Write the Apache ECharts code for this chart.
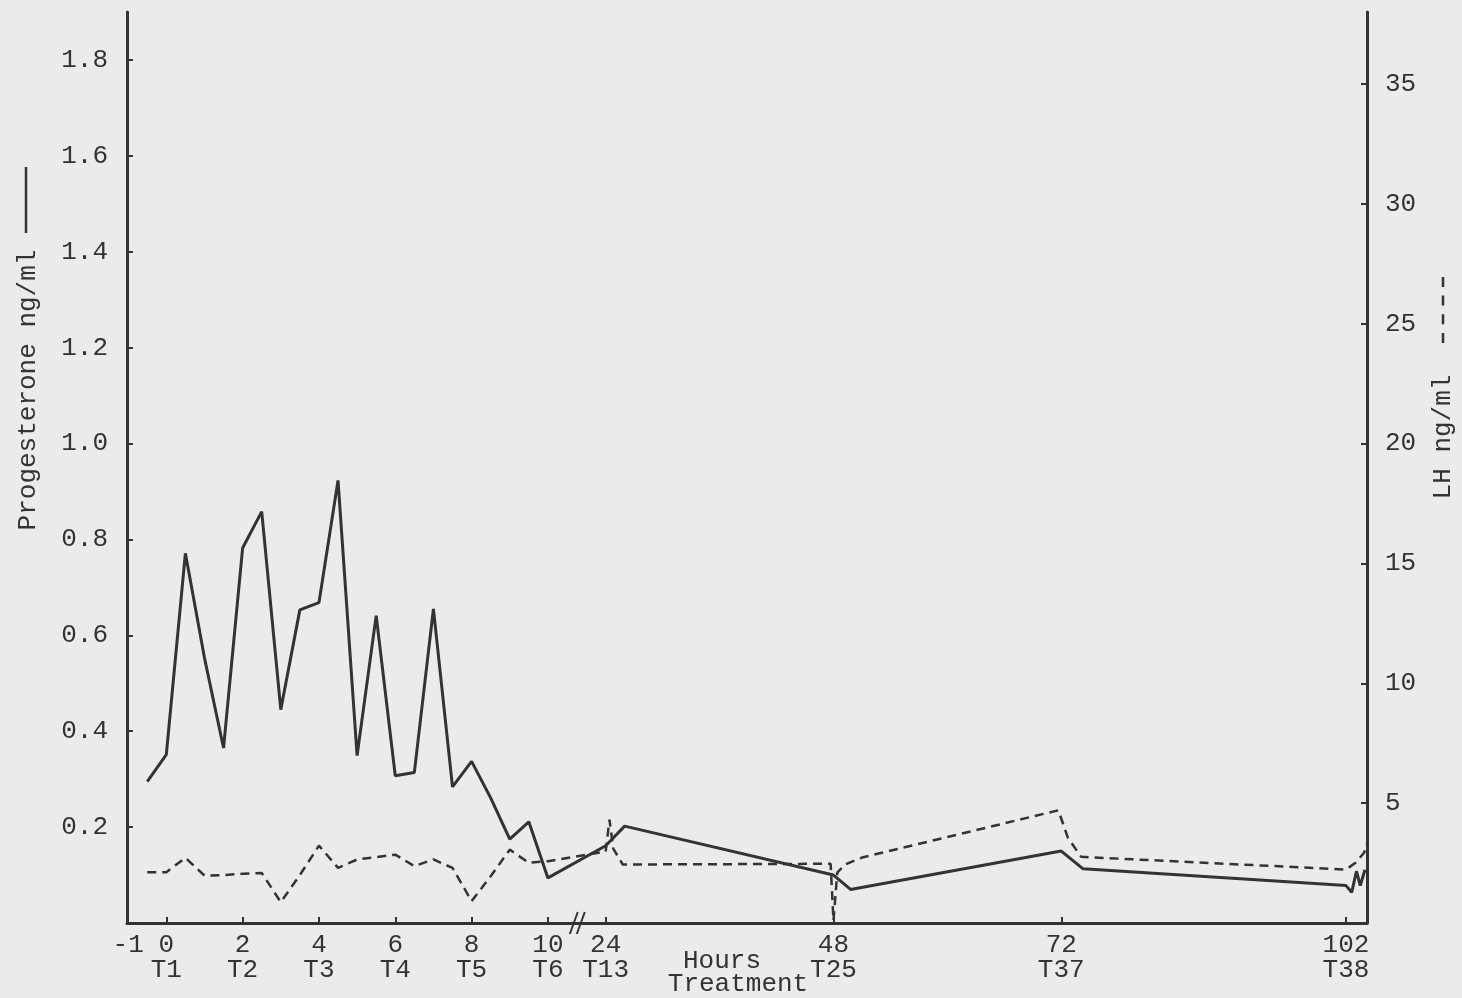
<!DOCTYPE html>
<html>
<head>
<meta charset="utf-8">
<script src="https://cdn.jsdelivr.net/npm/echarts@6.0.0/dist/echarts.min.js"></script>
<style>
  html, body { margin: 0; padding: 0; background: #ebebeb; }
  #chart { width: 1462px; height: 998px; }
</style>
</head>
<body>
<div id="chart"></div>
<script>
// ---- data (hours, values) ----
const progHours  = [-0.5, 0, 0.5, 1.0, 1.5, 2, 2.5, 3, 3.5, 4, 4.5, 5, 5.5, 6, 6.5, 7, 7.5, 8, 8.5, 9, 9.5, 10, 24, 26, 48, 49.8, 72, 74.3, 102, 102.6, 103.1, 103.5, 104.0];
const progValues = [0.295, 0.351, 0.771, 0.553, 0.365, 0.782, 0.858, 0.445, 0.653, 0.668, 0.923, 0.349, 0.641, 0.307, 0.314, 0.655, 0.284, 0.337, 0.261, 0.175, 0.211, 0.094, 0.161, 0.202, 0.100, 0.070, 0.150, 0.113, 0.078, 0.064, 0.108, 0.078, 0.111];

const lhHours  = [-0.5, 0, 0.5, 1, 1.5, 2, 2.5, 3, 3.5, 4, 4.5, 5, 5.5, 6, 6.5, 7, 7.5, 8, 8.5, 9, 9.5, 10, 24, 24.4, 24.8, 25.8, 47.7, 48, 48.4, 49.2, 51, 71.7, 72.7, 74.1, 102, 103, 103.9, 104.2];
const lhValues = [2.12, 2.12, 2.72, 1.98, 2.0, 2.05, 2.09, 0.87, 2.0, 3.23, 2.3, 2.65, 2.75, 2.85, 2.37, 2.65, 2.3, 0.91, 1.95, 3.06, 2.51, 2.58, 2.98, 4.31, 3.1, 2.44, 2.47, 0.1, 2.1, 2.44, 2.73, 4.70, 3.55, 2.76, 2.23, 2.51, 2.93, 3.3];

const xTickHours = [-1, 0, 2, 4, 6, 8, 10, 24, 48, 72, 102];
const xTickTreat = ['', 'T1', 'T2', 'T3', 'T4', 'T5', 'T6', 'T13', 'T25', 'T37', 'T38'];
const progTicks  = [0.2, 0.4, 0.6, 0.8, 1.0, 1.2, 1.4, 1.6, 1.8];
const lhTicks    = [5, 10, 15, 20, 25, 30, 35];

// ---- broken time scale: hours -> axis units (compressed after the break) ----
const BREAK_START = 10, BREAK_END = 24;
const POST_OFFSET = 11.514, POST_SLOPE = 0.24873;
function toDisplay(h) {
  return h <= BREAK_START + 1 ? h : POST_OFFSET + (h - BREAK_END) * POST_SLOPE;
}

const INK = '#333333';
const FONT = '"Liberation Mono", "DejaVu Sans Mono", monospace';

const chart = echarts.init(document.getElementById('chart'), null, { renderer: 'canvas' });

const xTickDisp = xTickHours.map(toDisplay);

const option = {
  backgroundColor: '#ebebeb',
  animation: false,
  grid: { left: 127, right: 95, top: 12, bottom: 75, containLabel: false },
  xAxis: {
    type: 'value',
    min: -1.03,
    max: 31.465,
    axisLine: { show: true, onZero: false, lineStyle: { color: INK, width: 3 } },
    axisTick: { show: true, inside: true, length: 6, lineStyle: { color: INK, width: 2 },
                customValues: xTickDisp.slice(1) },
    splitLine: { show: false },
    axisLabel: {
      customValues: xTickDisp,
      color: INK, fontFamily: FONT, fontSize: 26, lineHeight: 25, margin: 10,
      formatter: function (v) {
        for (let i = 0; i < xTickDisp.length; i++) {
          if (Math.abs(xTickDisp[i] - v) < 1e-6) {
            return xTickTreat[i] ? xTickHours[i] + '\n' + xTickTreat[i] : String(xTickHours[i]);
          }
        }
        return '';
      }
    }
  },
  yAxis: [
    {
      type: 'value', min: 0, max: 1.9, position: 'left',
      axisLine: { show: true, onZero: false, lineStyle: { color: INK, width: 3 } },
      axisTick: { show: true, inside: true, length: 6, lineStyle: { color: INK, width: 2 }, customValues: progTicks },
      splitLine: { show: false },
      axisLabel: { customValues: progTicks, color: INK, fontFamily: FONT, fontSize: 26, margin: 19,
                   formatter: v => v.toFixed(1) }
    },
    {
      type: 'value', min: 0, max: 38, position: 'right',
      axisLine: { show: true, onZero: false, lineStyle: { color: INK, width: 3 } },
      axisTick: { show: true, inside: true, length: 6, lineStyle: { color: INK, width: 2 }, customValues: lhTicks },
      splitLine: { show: false },
      axisLabel: { customValues: lhTicks, color: INK, fontFamily: FONT, fontSize: 26, margin: 18,
                   formatter: v => String(v) }
    }
  ],
  series: [
    {
      name: 'Progesterone ng/ml', type: 'line', yAxisIndex: 0,
      data: progHours.map((h, i) => [toDisplay(h), progValues[i]]),
      symbol: 'none', smooth: false,
      lineStyle: { color: INK, width: 3 }
    },
    {
      name: 'LH ng/ml', type: 'line', yAxisIndex: 1,
      data: lhHours.map((h, i) => [toDisplay(h), lhValues[i]]),
      symbol: 'none', smooth: false,
      lineStyle: { color: INK, width: 2.5, type: [9, 6] }
    }
  ]
};
chart.setOption(option);

// decorations positioned from the axis scale
const breakX = chart.convertToPixel({ xAxisIndex: 0 }, (toDisplay(BREAK_START) + toDisplay(BREAK_END)) / 2);
const axisY = chart.convertToPixel({ yAxisIndex: 0 }, 0);

chart.setOption({
  graphic: [
    { type: 'line', shape: { x1: breakX - 7, y1: axisY + 11, x2: breakX + 1, y2: axisY - 11 },
      style: { stroke: INK, lineWidth: 2 } },
    { type: 'line', shape: { x1: breakX, y1: axisY + 11, x2: breakX + 8, y2: axisY - 11 },
      style: { stroke: INK, lineWidth: 2 } },
    { type: 'text', x: 28, y: 390, rotation: Math.PI / 2,
      style: { text: 'Progesterone ng/ml', font: '26px ' + FONT, fill: INK, align: 'center', verticalAlign: 'middle' } },
    { type: 'line', shape: { x1: 26, y1: 167, x2: 26, y2: 233 },
      style: { stroke: INK, lineWidth: 2.5 } },
    { type: 'text', x: 1443, y: 437, rotation: Math.PI / 2,
      style: { text: 'LH ng/ml', font: '26px ' + FONT, fill: INK, align: 'center', verticalAlign: 'middle' } },
    { type: 'line', shape: { x1: 1443, y1: 343, x2: 1443, y2: 277 },
      style: { stroke: INK, lineWidth: 2.5, lineDash: [10, 8.7] } },
    { type: 'text', x: 722, y: 961,
      style: { text: 'Hours', font: '26px ' + FONT, fill: INK, align: 'center', verticalAlign: 'middle' } },
    { type: 'text', x: 738, y: 984,
      style: { text: 'Treatment', font: '26px ' + FONT, fill: INK, align: 'center', verticalAlign: 'middle' } }
  ]
});
</script>
</body>
</html>
